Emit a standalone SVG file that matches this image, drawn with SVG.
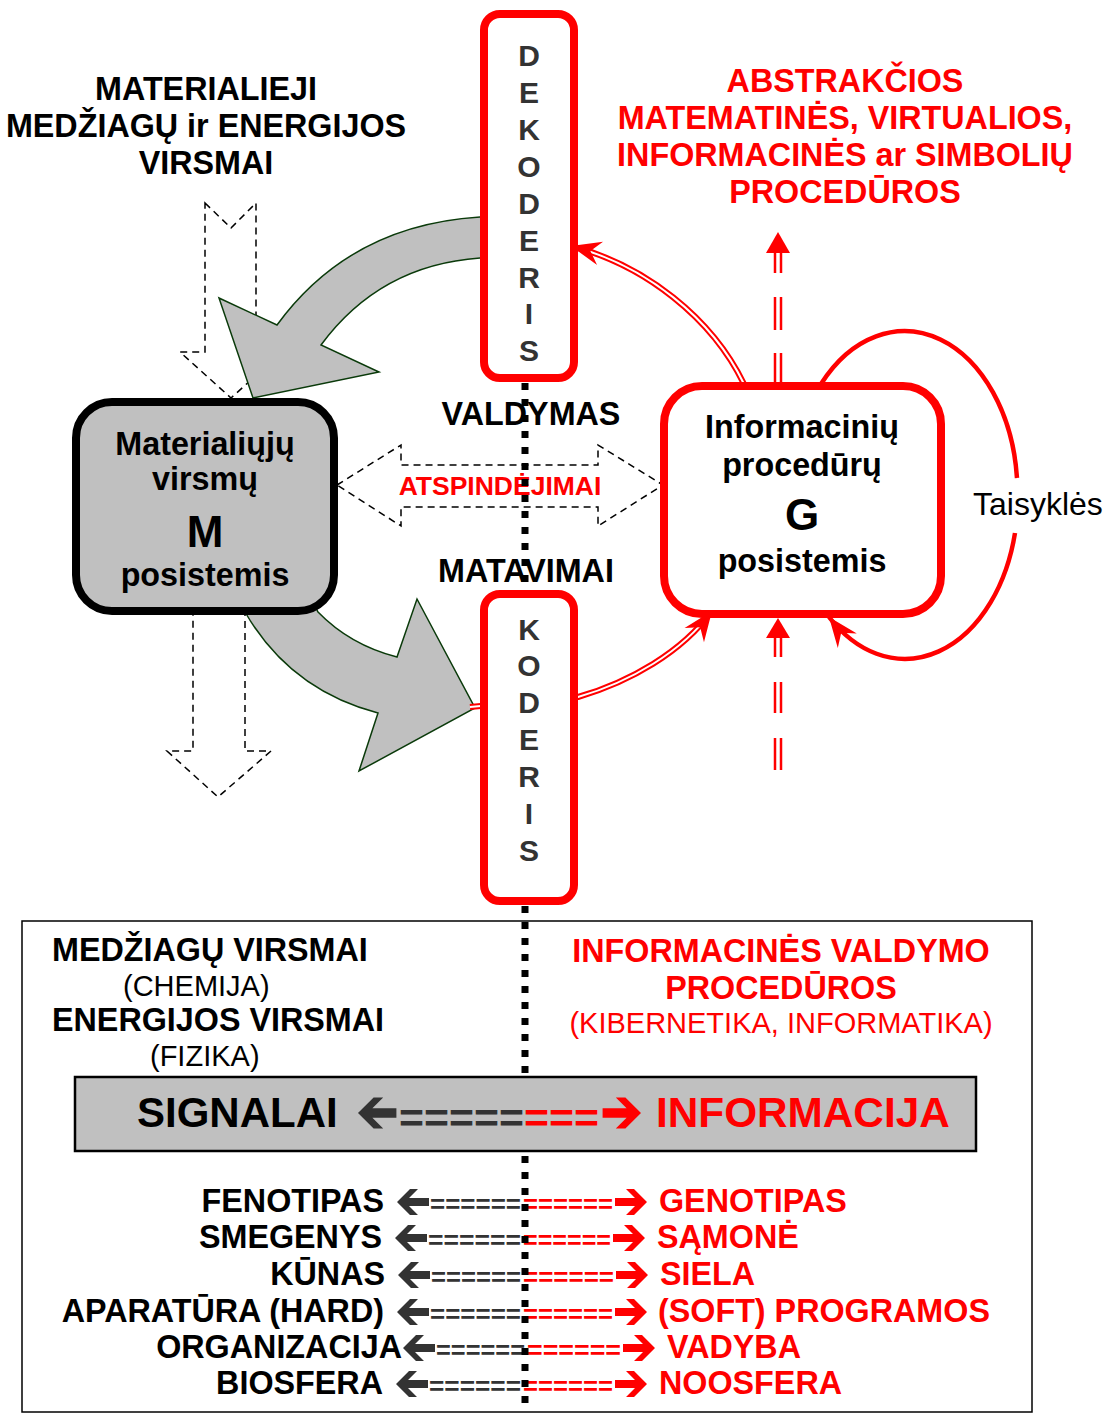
<svg xmlns="http://www.w3.org/2000/svg" xmlns:xlink="http://www.w3.org/1999/xlink" width="1112" height="1416" viewBox="0 0 1112 1416">
<style>
text{font-family:"Liberation Sans",Arial,sans-serif}
.b{font-weight:bold;font-size:32.3px}
.n{font-size:29px}
.red{fill:#f00}
.blk{fill:#000}
.dk{fill:#333}
.ltr{font-weight:bold;font-size:30px;fill:#333;text-anchor:middle}
.mid{text-anchor:middle}
.end{text-anchor:end}
.dash{fill:none;stroke:#000;stroke-width:1.5;stroke-dasharray:7 5}
.gray{fill:#c0c0c0;stroke:#0a3a0a;stroke-width:1.5}
.rbox{fill:#fff;stroke:#f00;stroke-width:8}
.dl1{fill:none;stroke:#f00;stroke-width:6}
.dl2{fill:none;stroke:#fff;stroke-width:2}
.vd{stroke:#f00;stroke-width:2.5}
.dot{stroke:#000;stroke-width:7;stroke-dasharray:7 9}
.eq{font-weight:bold;font-size:26px}
</style>
<defs>
<marker id="barb" viewBox="-32 -14 34 28" refX="0" refY="0" markerWidth="34" markerHeight="28" markerUnits="userSpaceOnUse" orient="auto">
<path d="M0,0 L-30,-12 L-20,0 L-30,12 Z" fill="#f00"/>
</marker>
<polygon id="arr" points="0,0 -13,-13 -21,-13 -12,-4 -32,-4 -32,4 -12,4 -21,13 -13,13"/>
</defs>

<!-- titles -->
<g id="title-left">
<text class="b blk mid" x="206" y="100">MATERIALIEJI</text>
<text class="b blk mid" x="206" y="137">MEDŽIAGŲ ir ENERGIJOS</text>
<text class="b blk mid" x="206" y="174">VIRSMAI</text>
</g>
<g id="title-right">
<text class="b red mid" x="845" y="92">ABSTRAKČIOS</text>
<text class="b red mid" x="845" y="129">MATEMATINĖS, VIRTUALIOS,</text>
<text class="b red mid" x="845" y="166">INFORMACINĖS ar SIMBOLIŲ</text>
<text class="b red mid" x="845" y="203">PROCEDŪROS</text>
</g>

<!-- connectors -->
<g id="connectors">
<polygon class="dash" points="205,203 231,228 256,203 256,352 282,352 231,398 180,352 205,352"/>
<path class="gray" d="M488 217 L480 217 Q350 225 277 325 L219 298 L253 398 L379 372 L321 345 Q380 265 480 258 L488 258 Z"/>
<path class="gray" d="M243 600 L245 612 Q290 690 378 713 L359 771 L475 708 L417 599 L397 657 Q350 645 318 612 L312 600 Z"/>
<polygon class="dash" points="193,613 245,613 245,751 271,751 218,797 167,751 193,751"/>
<polygon class="dash" points="337,485 401,445 401,465 598,465 598,445 663,485 598,526 598,507 401,507 401,526"/>

<!-- G to dekoderis -->
<path class="dl1" d="M744 384 C712 318 645 265 571 246"/>
<path class="dl2" d="M744 384 C712 318 645 265 571 246"/>
<path fill="none" stroke="none" d="M744 384 C712 318 645 265 571 246" marker-end="url(#barb)"/>
<!-- koderis to G -->
<path class="dl1" d="M470 707 L578 697 C630 682 682 652 712 611"/>
<path class="dl2" d="M470 707 L578 697 C630 682 682 652 712 611"/>
<path fill="none" stroke="none" d="M578 697 C630 682 682 652 712 611" marker-end="url(#barb)"/>
<!-- self loop -->
<path fill="none" stroke="#f00" stroke-width="4.5" d="M821 384 A113 162 0 0 1 1017 478"/>
<path fill="none" stroke="#f00" stroke-width="4.5" d="M1015 533 A113 162 0 0 1 829 617" marker-end="url(#barb)"/>
<!-- dashed red up arrows -->
<g>
<line class="vd" x1="775" y1="353" x2="775" y2="382"/><line class="vd" x1="781" y1="353" x2="781" y2="382"/>
<line class="vd" x1="775" y1="297" x2="775" y2="330"/><line class="vd" x1="781" y1="297" x2="781" y2="330"/>
<line class="vd" x1="775" y1="252" x2="775" y2="273"/><line class="vd" x1="781" y1="252" x2="781" y2="273"/>
<polygon fill="#f00" points="778,232 790,253 766,253"/>
<line class="vd" x1="775" y1="637" x2="775" y2="657"/><line class="vd" x1="781" y1="637" x2="781" y2="657"/>
<line class="vd" x1="775" y1="682" x2="775" y2="713"/><line class="vd" x1="781" y1="682" x2="781" y2="713"/>
<line class="vd" x1="775" y1="738" x2="775" y2="770"/><line class="vd" x1="781" y1="738" x2="781" y2="770"/>
<polygon fill="#f00" points="778,618 790,638 766,638"/>
</g>
</g>

<!-- nodes -->
<g id="M-box">
<rect x="76" y="402" width="258" height="209" rx="36" fill="#c0c0c0" stroke="#000" stroke-width="8"/>
<text class="b blk mid" x="205" y="455">Materialiųjų</text>
<text class="b blk mid" x="205" y="490">virsmų</text>
<text class="blk mid" x="205" y="547" style="font-weight:bold;font-size:44px">M</text>
<text class="b blk mid" x="205" y="586">posistemis</text>
</g>
<g id="G-box">
<rect class="rbox" x="664" y="386" width="277" height="228" rx="38"/>
<text class="b blk mid" x="802" y="438">Informacinių</text>
<text class="b blk mid" x="802" y="476">procedūrų</text>
<text class="blk mid" x="802" y="530" style="font-weight:bold;font-size:44px">G</text>
<text class="b blk mid" x="802" y="572">posistemis</text>
</g>
<g id="dekoderis">
<rect class="rbox" x="484" y="14" width="90" height="364" rx="16"/>
<text class="ltr" x="529" y="66">D</text>
<text class="ltr" x="529" y="103">E</text>
<text class="ltr" x="529" y="140">K</text>
<text class="ltr" x="529" y="177">O</text>
<text class="ltr" x="529" y="214">D</text>
<text class="ltr" x="529" y="251">E</text>
<text class="ltr" x="529" y="288">R</text>
<text class="ltr" x="529" y="324">I</text>
<text class="ltr" x="529" y="361">S</text>
</g>
<g id="koderis">
<rect class="rbox" x="484" y="594" width="90" height="307" rx="16"/>
<text class="ltr" x="529" y="640">K</text>
<text class="ltr" x="529" y="676">O</text>
<text class="ltr" x="529" y="713">D</text>
<text class="ltr" x="529" y="750">E</text>
<text class="ltr" x="529" y="787">R</text>
<text class="ltr" x="529" y="824">I</text>
<text class="ltr" x="529" y="861">S</text>
</g>

<g id="labels">
<text class="b blk mid" x="531" y="425">VALDYMAS</text>
<text class="b blk mid" x="526" y="582">MATAVIMAI</text>
<text class="red mid" x="500" y="495" style="font-weight:bold;font-size:26.5px">ATSPINDĖJIMAI</text>
<text class="blk" x="973" y="515" style="font-size:32px">Taisyklės</text>
</g>

<!-- bottom panel -->
<g id="bottom-panel">
<rect x="22" y="921" width="1010" height="491" fill="none" stroke="#000" stroke-width="1.5"/>
<text class="b blk" x="52" y="961">MEDŽIAGŲ VIRSMAI</text>
<text class="n blk" x="123" y="996">(CHEMIJA)</text>
<text class="b blk" x="52" y="1031">ENERGIJOS VIRSMAI</text>
<text class="n blk" x="150" y="1066">(FIZIKA)</text>
<text class="b red mid" x="781" y="962">INFORMACINĖS VALDYMO</text>
<text class="b red mid" x="781" y="999">PROCEDŪROS</text>
<text class="n red mid" x="781" y="1033">(KIBERNETIKA, INFORMATIKA)</text>
</g>

<g id="list">
<text class="b blk end" x="384" y="1212">FENOTIPAS</text>
<use href="#arr" xlink:href="#arr" fill="#333" transform="translate(397,1202) scale(-1,1)"/>
<text class="eq dk" x="430" y="1213" textLength="91" lengthAdjust="spacingAndGlyphs">======</text>
<text class="eq red" x="523" y="1213" textLength="90" lengthAdjust="spacingAndGlyphs">======</text>
<use href="#arr" xlink:href="#arr" fill="#f00" transform="translate(647,1202)"/>
<text class="b red" x="659" y="1212">GENOTIPAS</text>

<text class="b blk end" x="382" y="1248">SMEGENYS</text>
<use href="#arr" xlink:href="#arr" fill="#333" transform="translate(395,1238) scale(-1,1)"/>
<text class="eq dk" x="428" y="1249" textLength="93" lengthAdjust="spacingAndGlyphs">======</text>
<text class="eq red" x="523" y="1249" textLength="88" lengthAdjust="spacingAndGlyphs">======</text>
<use href="#arr" xlink:href="#arr" fill="#f00" transform="translate(645,1238)"/>
<text class="b red" x="657" y="1248">SĄMONĖ</text>

<text class="b blk end" x="385" y="1285">KŪNAS</text>
<use href="#arr" xlink:href="#arr" fill="#333" transform="translate(398,1275) scale(-1,1)"/>
<text class="eq dk" x="431" y="1286" textLength="90" lengthAdjust="spacingAndGlyphs">======</text>
<text class="eq red" x="523" y="1286" textLength="91" lengthAdjust="spacingAndGlyphs">======</text>
<use href="#arr" xlink:href="#arr" fill="#f00" transform="translate(648,1275)"/>
<text class="b red" x="660" y="1285">SIELA</text>

<text class="b blk end" x="384" y="1322">APARATŪRA (HARD)</text>
<use href="#arr" xlink:href="#arr" fill="#333" transform="translate(397,1312) scale(-1,1)"/>
<text class="eq dk" x="430" y="1323" textLength="91" lengthAdjust="spacingAndGlyphs">======</text>
<text class="eq red" x="523" y="1323" textLength="90" lengthAdjust="spacingAndGlyphs">======</text>
<use href="#arr" xlink:href="#arr" fill="#f00" transform="translate(647,1312)"/>
<text class="b red" x="658" y="1322">(SOFT) PROGRAMOS</text>

<text class="b blk end" x="402" y="1358">ORGANIZACIJA</text>
<use href="#arr" xlink:href="#arr" fill="#333" transform="translate(403,1348) scale(-1,1)"/>
<text class="eq dk" x="436" y="1359" textLength="89" lengthAdjust="spacingAndGlyphs">======</text>
<text class="eq red" x="527" y="1359" textLength="94" lengthAdjust="spacingAndGlyphs">======</text>
<use href="#arr" xlink:href="#arr" fill="#f00" transform="translate(655,1348)"/>
<text class="b red" x="667" y="1358">VADYBA</text>

<text class="b blk end" x="383" y="1394">BIOSFERA</text>
<use href="#arr" xlink:href="#arr" fill="#333" transform="translate(396,1384) scale(-1,1)"/>
<text class="eq dk" x="429" y="1395" textLength="92" lengthAdjust="spacingAndGlyphs">======</text>
<text class="eq red" x="523" y="1395" textLength="90" lengthAdjust="spacingAndGlyphs">======</text>
<use href="#arr" xlink:href="#arr" fill="#f00" transform="translate(647,1384)"/>
<text class="b red" x="659" y="1394">NOOSFERA</text>
</g>

<!-- dotted divider -->
<g id="divider">
<line class="dot" x1="525" y1="383" x2="525" y2="590"/>
<line class="dot" x1="525" y1="906" x2="525" y2="1077"/>
<line class="dot" x1="525" y1="1156" x2="525" y2="1410"/>
</g>

<g id="signal-bar">
<rect x="75" y="1077" width="901" height="74" fill="#c0c0c0" stroke="#000" stroke-width="2.5"/>
<text class="blk" x="137" y="1127" style="font-weight:bold;font-size:42px">SIGNALAI</text>
<use href="#arr" xlink:href="#arr" fill="#333" transform="translate(358,1113) scale(-1.2,1.2)"/>
<text x="399" y="1132" textLength="200" lengthAdjust="spacingAndGlyphs" style="font-weight:bold;font-size:40px"><tspan class="dk">=====</tspan><tspan class="red">===</tspan></text>
<use href="#arr" xlink:href="#arr" fill="#f00" transform="translate(641,1113) scale(1.2,1.2)"/>
<text class="red" x="656" y="1127" style="font-weight:bold;font-size:42.3px">INFORMACIJA</text>
</g>
</svg>
